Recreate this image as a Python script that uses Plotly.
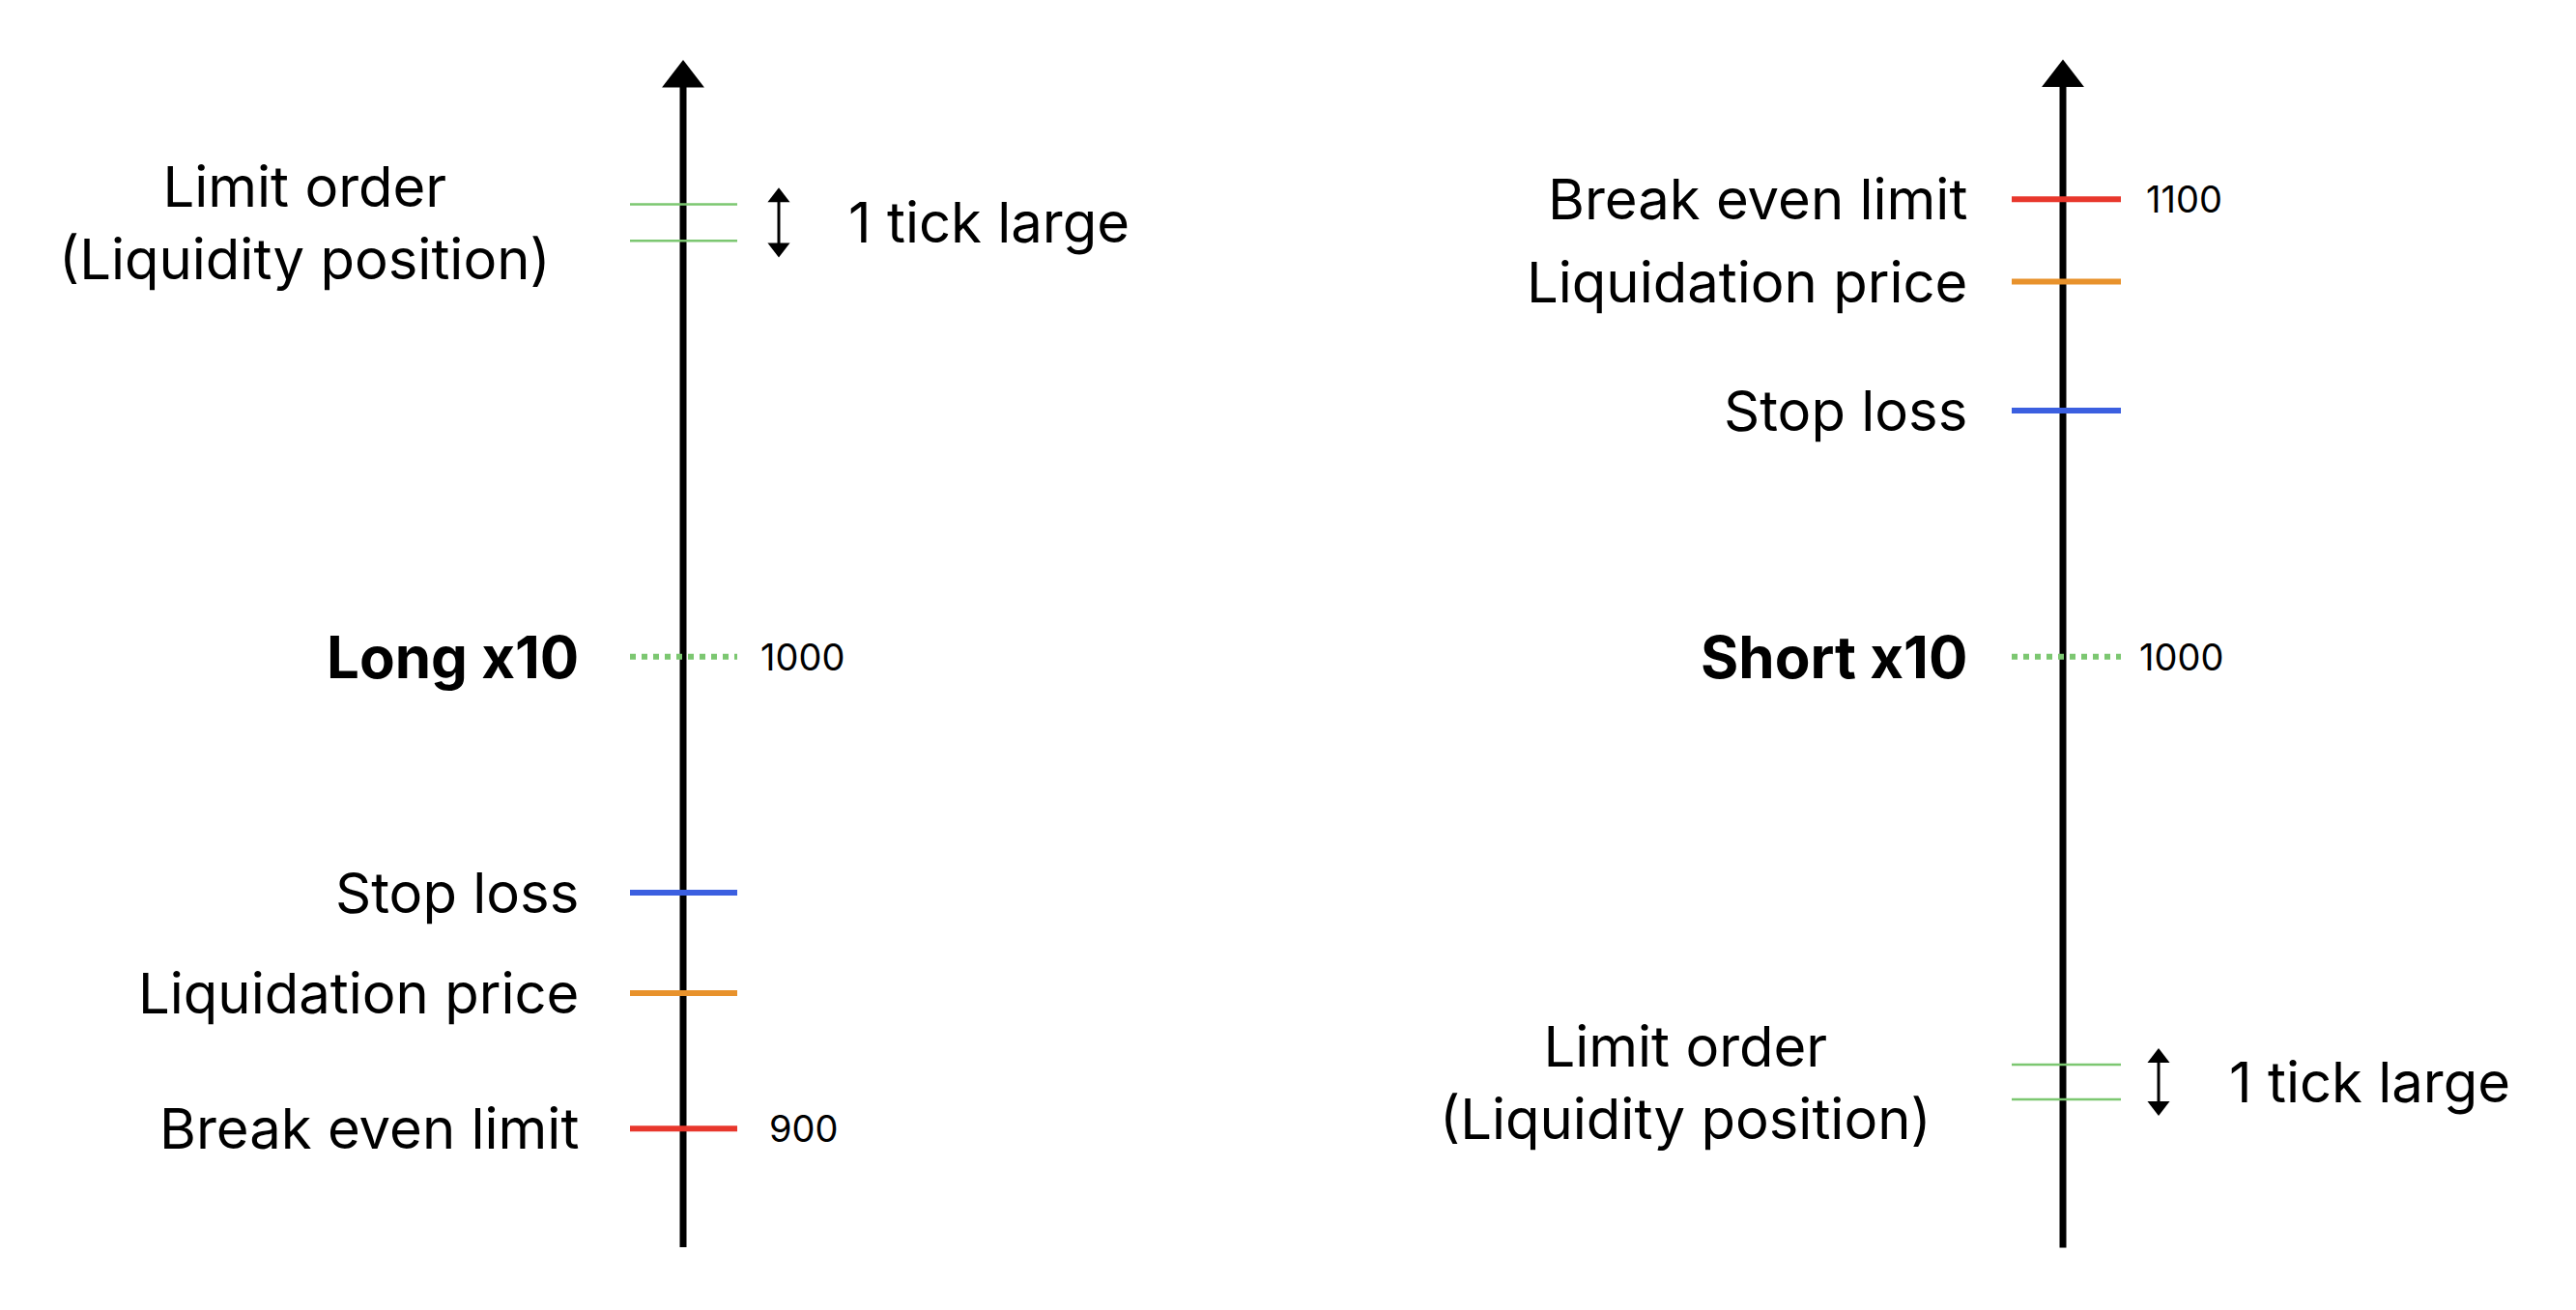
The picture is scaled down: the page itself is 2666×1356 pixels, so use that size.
import plotly.graph_objects as go

# price levels (left: long, right: short)
long_entry = 1000
long_levels = [950, 928.7, 900]
long_names = ["Stop loss", "Liquidation price", "Break even limit"]
long_limit = [1095.8, 1088.1]

short_entry = 1000
short_levels = [1100, 1082, 1053.8]
short_names = ["Break even limit", "Liquidation price", "Stop loss"]
short_limit = [910.8, 903.2]

colors_long = ["#3b5fe0", "#e8922c", "#e8372c"]
colors_short = ["#e8372c", "#e8922c", "#3b5fe0"]
green = "#7cc771"
FONT = "Inter, Liberation Sans, sans-serif"
DX = -14  # page offset correction

fig = go.Figure()

def panel(yref, ax_x, x0, x1, entry, levels, names, cols, limit, ytop, ybot, lbl_x, lim_x, arr_x, tick_x, num_x, numbers, title):
    ya = "y" if yref == "y" else "y2"
    ax_x, x0, x1, lbl_x, lim_x, arr_x, tick_x = [v + DX for v in (ax_x, x0, x1, lbl_x, lim_x, arr_x, tick_x)]
    num_x = [v + DX for v in num_x]
    # main axis with arrow
    fig.add_trace(go.Scatter(x=[ax_x, ax_x], y=[ybot, ytop - 5], mode="lines",
                             line=dict(color="black", width=7), yaxis=ya, showlegend=False))
    fig.add_trace(go.Scatter(x=[ax_x], y=[ytop - 3.4], mode="markers",
                             marker=dict(symbol="triangle-up", size=38, color="black"),
                             yaxis=ya, showlegend=False))
    # entry
    fig.add_trace(go.Scatter(x=[x0, x1], y=[entry, entry], mode="lines",
                             line=dict(color=green, width=6, dash="dot"), yaxis=ya, showlegend=False))
    fig.add_annotation(x=lbl_x, y=entry, text="<b>" + title + "</b>", xanchor="right", showarrow=False,
                       xref="x", yref=yref, font=dict(size=60, family=FONT, color="black"))
    for lv, nm, c in zip(levels, names, cols):
        fig.add_trace(go.Scatter(x=[x0, x1], y=[lv, lv], mode="lines",
                                 line=dict(color=c, width=6), yaxis=ya, showlegend=False))
        fig.add_annotation(x=lbl_x, y=lv, text=nm, xanchor="right", showarrow=False,
                           xref="x", yref=yref, font=dict(size=58, family=FONT, color="black"))
    for lv in limit:
        fig.add_trace(go.Scatter(x=[x0, x1], y=[lv, lv], mode="lines",
                                 line=dict(color=green, width=2.5), yaxis=ya, showlegend=False))
    mid = sum(limit) / 2
    fig.add_annotation(x=lim_x, y=mid, text="Limit order<br>(Liquidity position)", showarrow=False,
                       xref="x", yref=yref, font=dict(size=58, family=FONT, color="black"))
    fig.add_trace(go.Scatter(x=[arr_x, arr_x], y=[limit[0] + 1.5, limit[1] - 1.5], mode="lines+markers",
                             line=dict(color="black", width=3),
                             marker=dict(symbol=["triangle-up", "triangle-down"], size=20, color="black"),
                             yaxis=ya, showlegend=False))
    fig.add_annotation(x=tick_x, y=mid, text="1 tick large", xanchor="left", showarrow=False,
                       xref="x", yref=yref, font=dict(size=58, family=FONT, color="black"))
    for nx, (val, txt) in zip(num_x, numbers):
        fig.add_annotation(x=nx, y=val, text=txt, xanchor="left", showarrow=False,
                           xref="x", yref=yref, font=dict(size=38, family=FONT, color="black"))

panel("y", 713, 658, 769, long_entry, long_levels, long_names, colors_long, long_limit,
      1125.9, 874.9, 607, 321, 812, 882, [791, 800], [(1000, "1000"), (900, "900")], "Long x10")
panel("y2", 2141, 2088, 2201, short_entry, short_levels, short_names, colors_short, short_limit,
      1130.0, 870.8, 2044, 1750, 2240, 2311, [2218, 2225], [(1000, "1000"), (1100, "1100")], "Short x10")

fig.update_layout(
    width=2666, height=1356, margin=dict(l=0, r=0, t=0, b=0),
    plot_bgcolor="white", paper_bgcolor="white",
    xaxis=dict(range=[0, 2666], visible=False, fixedrange=True),
    yaxis=dict(range=[862.4 - 2.45, 1139.9 - 2.45], visible=False),
    yaxis2=dict(range=[857.96 - 2.5, 1144.4 - 2.5], visible=False, overlaying="y"),
)
fig.write_html("out.html")
